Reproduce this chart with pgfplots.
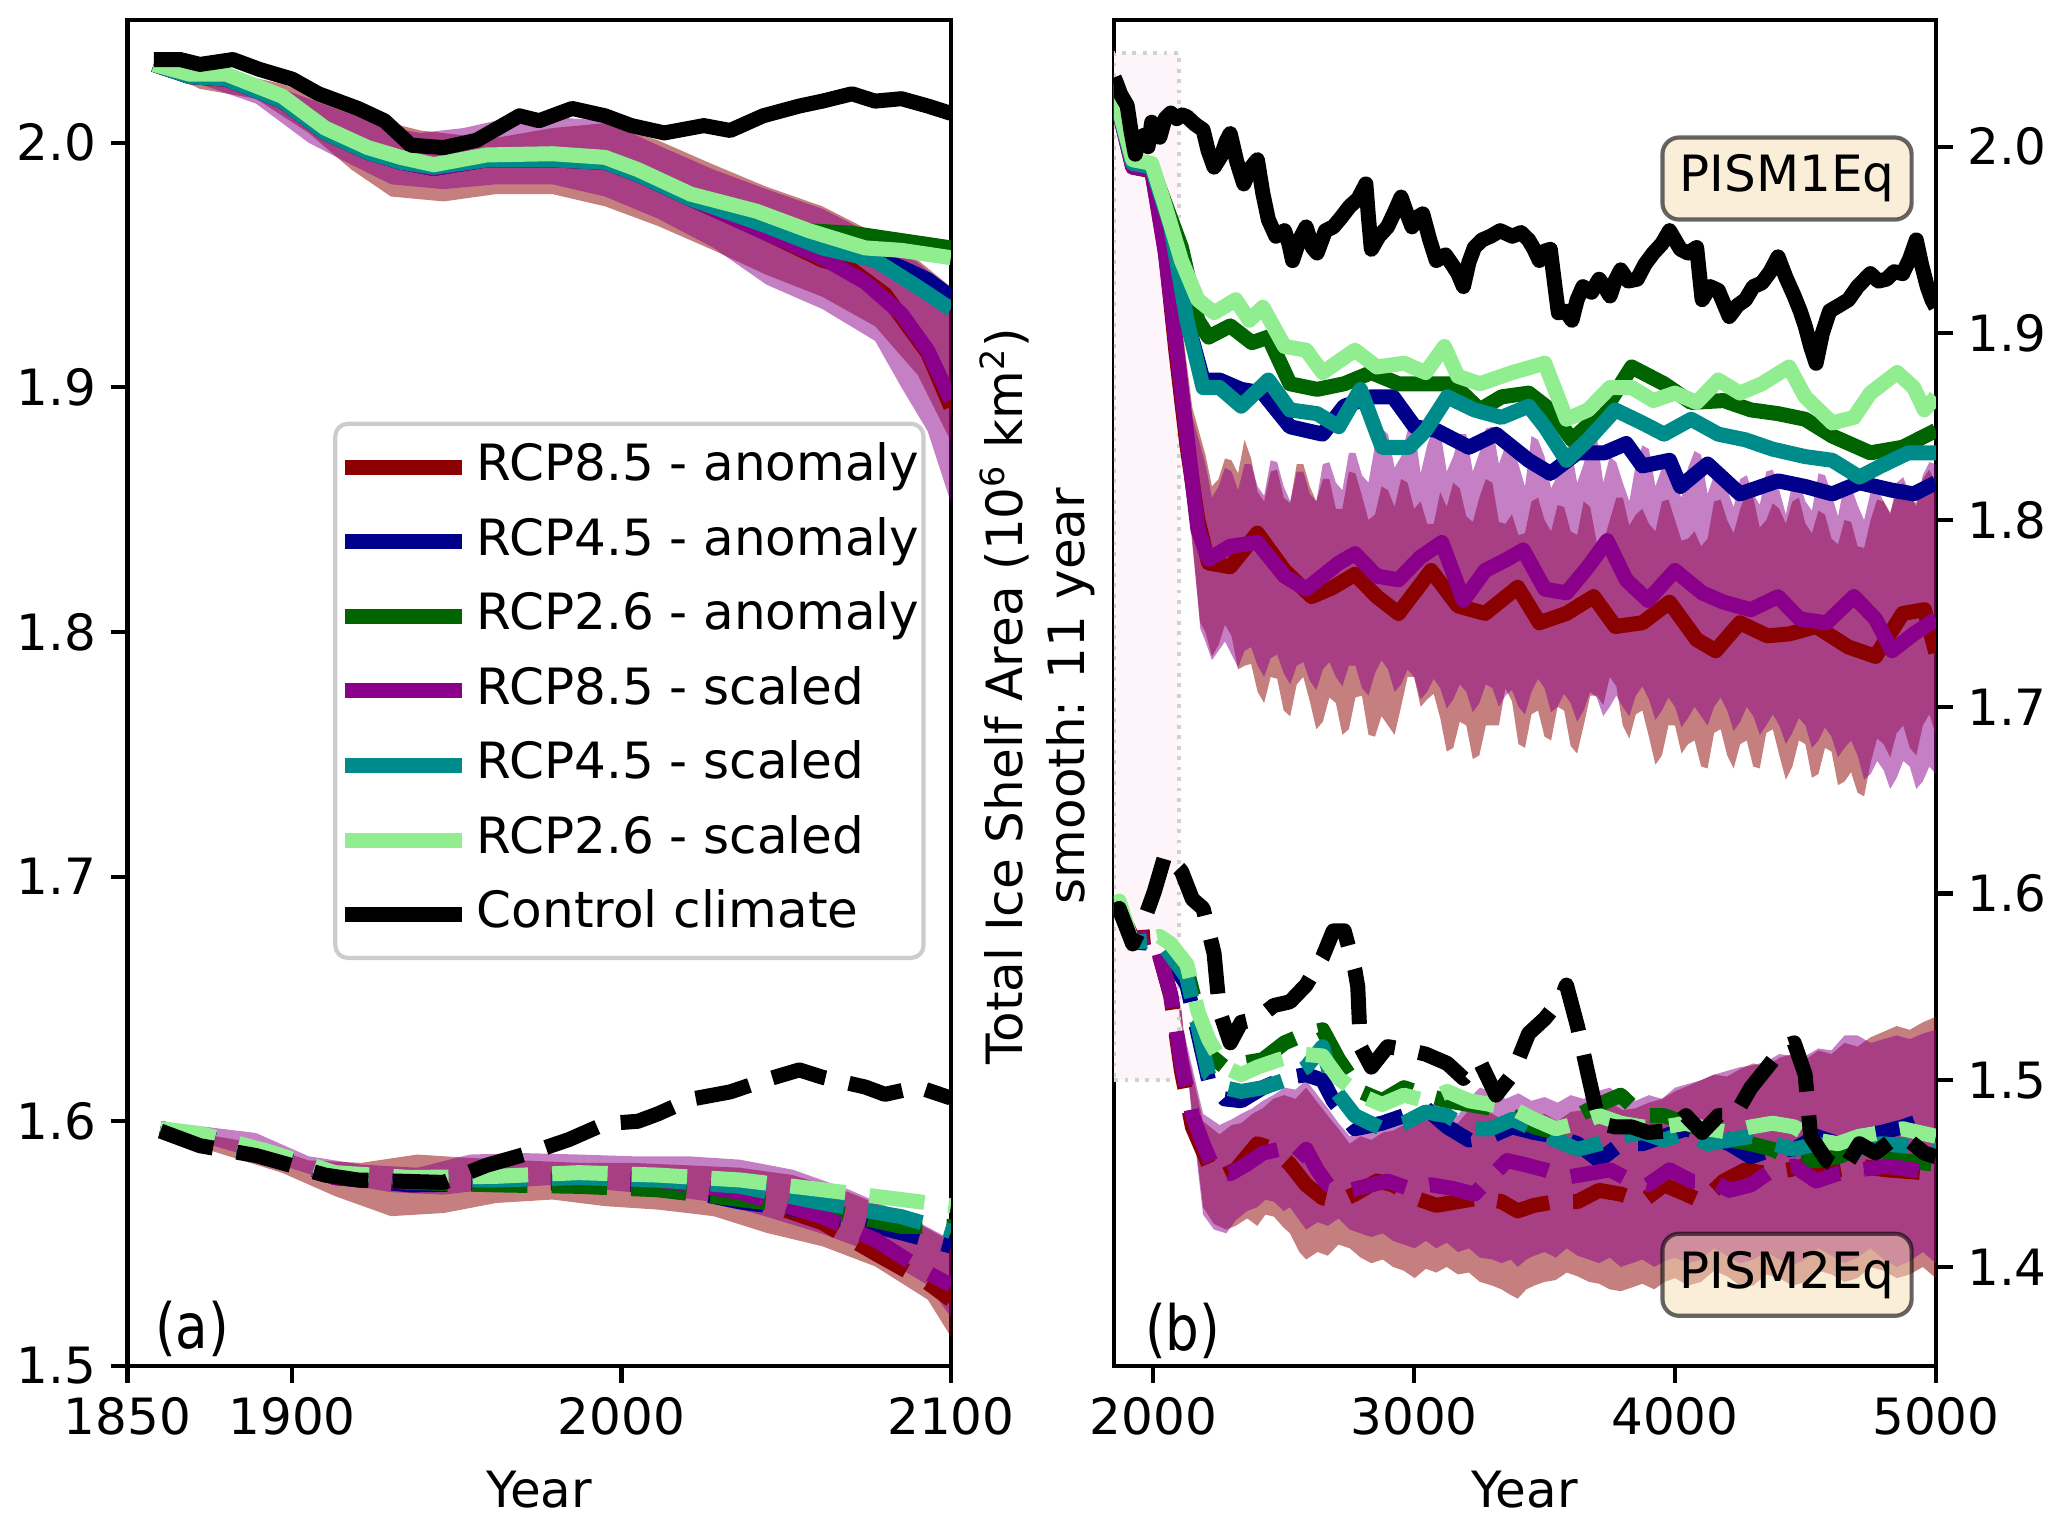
\documentclass[border=0pt]{standalone}
\usepackage{fontspec}
\setmainfont{DejaVu Sans}
\newfontfamily\narrowfont{DejaVu Sans}[FakeStretch=0.85]
\usepackage{pgfplots}
\pgfplotsset{compat=1.18}
\usepgfplotslibrary{fillbetween}

\definecolor{cdred}{RGB}{139,0,0}
\definecolor{cdblue}{RGB}{0,0,139}
\definecolor{cdgreen}{RGB}{0,100,0}
\definecolor{cdmag}{RGB}{139,0,139}
\definecolor{cdcyan}{RGB}{0,139,139}
\definecolor{clgreen}{RGB}{144,238,144}
\definecolor{cwheat}{RGB}{245,222,179}
\definecolor{legframe}{RGB}{204,204,204}
\definecolor{zoomfill}{RGB}{253,245,249}

\pgfplotsset{
  panel/.style={
    scale only axis, height=323.1pt,
    clip mode=individual,
    axis line style={line width=1pt},
    tick style={line width=1pt, black},
    major tick length=4pt, tick align=outside,
    xtick pos=bottom,
    tick label style={font=\fontsize{12}{14}\selectfont},
    label style={font=\fontsize{12}{14}\selectfont},
    /pgf/number format/assume math mode=true,
    /pgf/number format/1000 sep={},
    yticklabel style={/pgf/number format/.cd, fixed, fixed zerofill, precision=1},
    xlabel={Year},
    xlabel style={at={(axis description cs:0.5,-0.0922)}, anchor=center},
  },
  ln/.style={line width=3.6pt, line join=round, forget plot},
  dsh/.style={line width=3.6pt, line join=round, dash pattern=on 13.3pt off 5.8pt, forget plot},
  edge/.style={draw=none, forget plot},
  band/.style={fill=#1, fill opacity=0.5, draw=none, forget plot},
}

\begin{document}
\begin{tikzpicture}

%% ---------------- (a) 1850-2100 ----------------
\begin{axis}[panel,
    at={(30.6pt,38.9pt)}, anchor=south west, width=197.6pt,
    xmin=1850, xmax=2100, ymin=1.5, ymax=2.0503,
    xtick={1850,1900,2000,2100}, ytick={1.5,1.6,1.7,1.8,1.9,2.0},
    ytick pos=left,
    legend style={at={(axis description cs:0.9694,0.3015)}, anchor=south east,
      draw=legframe, line width=1pt, rounded corners=3pt, fill=white, fill opacity=0.8, text opacity=1,
      font=\fontsize{12}{14}\selectfont, inner xsep=0pt, inner ysep=3.4pt, row sep=3.9pt,
      nodes={inner sep=1pt, text height=9.2pt, text depth=2.8pt}},
    legend cell align=left,
    legend image code/.code={\path (-1.9pt,0pt) (30.1pt,0pt); \draw[#1, line width=3.6pt] (0pt,0pt) -- (28.1pt,0pt);},
  ]
  % PISM1Eq bands
  \addplot[edge, name path=aru] coordinates {(1858,2.033)(1880,2.029)(1897,2.024)(1913,2.016)(1930,2.008)(1939,2.005)(1952,2.003)(1962,2.002)(1979,2.006)(1995,2.008)(2011,2.001)(2028,1.991)(2044,1.982)(2061,1.974)(2077,1.963)(2090,1.952)(2100,1.941)};
  \addplot[edge, name path=arl] coordinates {(1858,2.031)(1872,2.022)(1889,2.018)(1905,2.004)(1918,1.989)(1930,1.978)(1946,1.976)(1962,1.979)(1979,1.979)(1995,1.974)(2011,1.966)(2028,1.956)(2044,1.946)(2061,1.937)(2077,1.925)(2090,1.905)(2100,1.878)};
  \addplot[band=cdred] fill between[of=aru and arl];
  \addplot[edge, name path=apu] coordinates {(1858,2.033)(1880,2.028)(1897,2.022)(1913,2.014)(1930,2.006)(1939,2.004)(1952,2.006)(1962,2.009)(1979,2.0105)(1995,2.009)(2011,1.999)(2028,1.989)(2044,1.981)(2061,1.973)(2077,1.962)(2090,1.951)(2100,1.94)};
  \addplot[edge, name path=apl] coordinates {(1858,2.031)(1872,2.024)(1889,2.016)(1905,2.0)(1918,1.991)(1930,1.983)(1946,1.981)(1962,1.983)(1979,1.983)(1995,1.978)(2011,1.969)(2028,1.957)(2044,1.942)(2061,1.932)(2077,1.919)(2085,1.900)(2093,1.882)(2100,1.853)};
  \addplot[band=cdmag] fill between[of=apu and apl];
  % PISM2Eq bands
  \addplot[edge, name path=bru] coordinates {(1860,1.596)(1872,1.595)(1889,1.591)(1905,1.584)(1921,1.583)(1938,1.5864)(1954,1.585)(1970,1.584)(1987,1.583)(2003,1.583)(2020,1.582)(2036,1.581)(2052,1.578)(2069,1.571)(2085,1.562)(2100,1.551)};
  \addplot[edge, name path=brl] coordinates {(1860,1.5952)(1876,1.5877)(1897,1.5789)(1913,1.5694)(1930,1.5612)(1946,1.5625)(1962,1.5666)(1979,1.568)(1995,1.5653)(2011,1.5639)(2028,1.5612)(2044,1.5544)(2061,1.5489)(2077,1.5407)(2093,1.5271)(2100,1.512)};
  \addplot[band=cdred] fill between[of=bru and brl];
  \addplot[edge, name path=bpu] coordinates {(1860,1.5973)(1872,1.598)(1889,1.5952)(1905,1.5857)(1921,1.5823)(1938,1.581)(1954,1.5864)(1970,1.587)(1987,1.5864)(2003,1.5857)(2020,1.5857)(2036,1.5843)(2052,1.5802)(2069,1.5721)(2085,1.5625)(2100,1.5516)};
  \addplot[edge, name path=bpl] coordinates {(1860,1.5955)(1876,1.590)(1897,1.582)(1913,1.575)(1930,1.571)(1946,1.570)(1962,1.5725)(1979,1.574)(1995,1.572)(2011,1.570)(2028,1.567)(2044,1.561)(2061,1.554)(2077,1.546)(2093,1.533)(2100,1.52)};
  \addplot[band=cdmag] fill between[of=bpu and bpl];

  % PISM1Eq lines (solid)
  \addplot[ln, cdred] coordinates {(1858,2.032)(1869,2.027)(1880,2.026)(1897,2.017)(1910,2.004)(1923,1.996)(1933,1.992)(1943,1.9895)(1959,1.993)(1979,1.993)(1995,1.992)(2005,1.987)(2021,1.977)(2044,1.963)(2061,1.952)(2069,1.949)(2080,1.938)(2093,1.914)(2100,1.892)};
  \addplot[ln, cdblue] coordinates {(1858,2.032)(1869,2.027)(1880,2.026)(1897,2.017)(1910,2.004)(1923,1.996)(1933,1.992)(1943,1.9895)(1959,1.993)(1979,1.993)(1995,1.992)(2005,1.987)(2021,1.977)(2044,1.964)(2061,1.957)(2077,1.953)(2085,1.949)(2093,1.944)(2100,1.937)};
  \addplot[ln, cdgreen] coordinates {(1858,2.032)(1869,2.027)(1880,2.027)(1897,2.018)(1910,2.005)(1923,1.997)(1933,1.993)(1943,1.990)(1959,1.994)(1979,1.994)(1995,1.993)(2005,1.988)(2021,1.978)(2041,1.970)(2057,1.964)(2070,1.963)(2085,1.960)(2100,1.957)};
  \addplot[ln, cdmag] coordinates {(1858,2.032)(1869,2.027)(1880,2.026)(1897,2.017)(1910,2.004)(1923,1.996)(1933,1.992)(1943,1.9895)(1959,1.993)(1979,1.993)(1995,1.992)(2005,1.987)(2021,1.977)(2044,1.963)(2061,1.953)(2074,1.943)(2085,1.930)(2093,1.915)(2100,1.895)};
  \addplot[ln, cdcyan] coordinates {(1858,2.032)(1869,2.027)(1880,2.026)(1897,2.017)(1910,2.004)(1923,1.996)(1933,1.992)(1943,1.990)(1959,1.993)(1979,1.993)(1995,1.992)(2005,1.987)(2021,1.977)(2044,1.966)(2061,1.957)(2077,1.952)(2090,1.941)(2100,1.932)};
  \addplot[ln, clgreen] coordinates {(1858,2.032)(1869,2.028)(1880,2.028)(1897,2.019)(1910,2.006)(1923,1.998)(1933,1.994)(1943,1.991)(1959,1.995)(1979,1.9955)(1995,1.994)(2005,1.989)(2021,1.979)(2041,1.972)(2057,1.964)(2074,1.957)(2085,1.956)(2100,1.953)};
  \addplot[ln, black] coordinates {(1858,2.034)(1866,2.034)(1872,2.032)(1882,2.034)(1890,2.030)(1900,2.026)(1908,2.020)(1920,2.014)(1928,2.009)(1936,1.999)(1946,1.998)(1956,2.001)(1969,2.011)(1975,2.009)(1985,2.014)(1995,2.011)(2003,2.007)(2013,2.004)(2025,2.007)(2033,2.005)(2043,2.011)(2054,2.015)(2061,2.017)(2070,2.020)(2077,2.017)(2085,2.018)(2093,2.015)(2100,2.012)};

  % PISM2Eq lines (dashed)
  \addplot[dsh, cdred] coordinates {(1860,1.597)(1872,1.594)(1897,1.585)(1913,1.577)(1936,1.574)(1962,1.575)(1987,1.576)(2011,1.575)(2036,1.570)(2061,1.5585)(2077,1.546)(2093,1.534)(2100,1.527)};
  \addplot[dsh, cdblue] coordinates {(1860,1.597)(1872,1.594)(1897,1.585)(1913,1.577)(1936,1.574)(1962,1.5745)(1987,1.575)(2011,1.574)(2036,1.567)(2061,1.5625)(2085,1.5544)(2100,1.549)};
  \addplot[dsh, cdgreen] coordinates {(1860,1.597)(1872,1.594)(1897,1.585)(1913,1.578)(1936,1.575)(1962,1.574)(1987,1.5734)(2011,1.572)(2036,1.568)(2061,1.564)(2085,1.557)(2100,1.557)};
  \addplot[dsh, cdmag] coordinates {(1860,1.597)(1872,1.594)(1897,1.585)(1913,1.577)(1936,1.575)(1962,1.576)(1987,1.577)(2011,1.576)(2036,1.571)(2061,1.561)(2077,1.5516)(2093,1.538)(2100,1.533)};
  \addplot[dsh, cdcyan] coordinates {(1860,1.597)(1872,1.594)(1897,1.585)(1913,1.578)(1936,1.576)(1962,1.576)(1987,1.577)(2011,1.576)(2036,1.5734)(2061,1.5666)(2085,1.561)(2100,1.555)};
  \addplot[dsh, clgreen] coordinates {(1860,1.597)(1872,1.595)(1892,1.588)(1913,1.579)(1936,1.577)(1962,1.5775)(1987,1.579)(2011,1.578)(2036,1.576)(2061,1.572)(2085,1.568)(2100,1.5655)};
  \addplot[dsh, black] coordinates {(1860,1.596)(1872,1.590)(1889,1.586)(1897,1.583)(1910,1.578)(1920,1.576)(1933,1.5755)(1946,1.575)(1959,1.582)(1972,1.587)(1984,1.5925)(1995,1.599)(2005,1.600)(2011,1.603)(2021,1.609)(2033,1.612)(2044,1.617)(2054,1.621)(2061,1.618)(2074,1.614)(2080,1.611)(2090,1.614)(2100,1.6095)};

  \node[font=\narrowfont\fontsize{15}{18}\selectfont] at (axis description cs:0.0785,0.0274) {(a)};

  \addlegendimage{cdred}\addlegendentry{RCP8.5 - anomaly}
  \addlegendimage{cdblue}\addlegendentry{RCP4.5 - anomaly}
  \addlegendimage{cdgreen}\addlegendentry{RCP2.6 - anomaly}
  \addlegendimage{cdmag}\addlegendentry{RCP8.5 - scaled}
  \addlegendimage{cdcyan}\addlegendentry{RCP4.5 - scaled}
  \addlegendimage{clgreen}\addlegendentry{RCP2.6 - scaled}
  \addlegendimage{black}\addlegendentry{Control climate}
\end{axis}

%% ---------------- (b) 1850-5000 ----------------
\begin{axis}[panel,
    at={(267.3pt,38.9pt)}, anchor=south west, width=197.3pt,
    xmin=1848.5, xmax=5000, ymin=1.347, ymax=2.068,
    xtick={2000,3000,4000,5000}, ytick={1.4,1.5,1.6,1.7,1.8,1.9,2.0},
    ytick pos=right, yticklabel pos=right,
  ]
  % zoom window of panel (a)
  \addplot[fill=zoomfill, draw=black!18, line width=0.9pt, dash pattern=on 0.9pt off 1.6pt, forget plot]
    coordinates {(1850,1.5)(2100,1.5)(2100,2.05)(1850,2.05)(1850,1.5)};

  % PISM1Eq bands
  \addplot[edge, name path=cru] coordinates {(1849,2.035)(1900,2.02)(1940,1.995)(2000,1.992)(2050,1.965)(2100,1.915)(2150,1.86)(2200,1.835)(2225,1.818)(2250,1.822)(2275,1.833)(2300,1.832)(2325,1.825)(2350,1.843)(2375,1.833)(2400,1.815)(2425,1.81)(2450,1.826)(2475,1.827)(2500,1.812)(2525,1.809)(2550,1.83)(2575,1.83)(2600,1.818)(2625,1.81)(2650,1.822)(2675,1.822)(2700,1.806)(2725,1.806)(2750,1.826)(2775,1.825)(2800,1.813)(2825,1.80)(2850,1.803)(2875,1.818)(2900,1.816)(2925,1.807)(2950,1.822)(2975,1.82)(3000,1.806)(3025,1.81)(3050,1.798)(3075,1.798)(3100,1.815)(3125,1.807)(3150,1.82)(3175,1.817)(3200,1.802)(3225,1.799)(3250,1.812)(3275,1.822)(3300,1.82)(3325,1.799)(3350,1.798)(3375,1.803)(3400,1.792)(3425,1.793)(3450,1.81)(3475,1.812)(3500,1.80)(3525,1.794)(3550,1.808)(3575,1.807)(3600,1.794)(3625,1.792)(3650,1.81)(3675,1.807)(3700,1.788)(3725,1.788)(3750,1.80)(3775,1.812)(3800,1.812)(3825,1.797)(3850,1.803)(3875,1.806)(3900,1.798)(3925,1.794)(3950,1.81)(3975,1.811)(4000,1.80)(4025,1.789)(4050,1.79)(4075,1.794)(4100,1.786)(4125,1.79)(4150,1.81)(4175,1.811)(4200,1.80)(4225,1.793)(4250,1.806)(4275,1.815)(4300,1.812)(4325,1.796)(4350,1.80)(4375,1.809)(4400,1.806)(4425,1.798)(4450,1.81)(4475,1.812)(4500,1.798)(4525,1.793)(4550,1.805)(4575,1.803)(4600,1.79)(4625,1.787)(4650,1.80)(4675,1.799)(4700,1.786)(4725,1.785)(4750,1.80)(4775,1.811)(4800,1.81)(4825,1.804)(4850,1.815)(4875,1.82)(4900,1.812)(4925,1.809)(4950,1.822)(4975,1.827)(5000,1.82)};
  \addplot[edge, name path=crl] coordinates {(1849,2.03)(1900,2.0)(1940,1.975)(2000,1.98)(2050,1.935)(2100,1.87)(2140,1.80)(2180,1.745)(2200,1.74)(2225,1.727)(2250,1.733)(2275,1.744)(2300,1.738)(2325,1.72)(2350,1.722)(2375,1.723)(2400,1.708)(2425,1.702)(2450,1.716)(2475,1.715)(2500,1.698)(2525,1.695)(2550,1.712)(2575,1.716)(2600,1.703)(2625,1.688)(2650,1.692)(2675,1.705)(2700,1.702)(2725,1.685)(2750,1.688)(2775,1.705)(2800,1.706)(2825,1.685)(2850,1.684)(2875,1.695)(2900,1.69)(2925,1.685)(2950,1.70)(2975,1.716)(3000,1.716)(3025,1.70)(3050,1.704)(3075,1.707)(3100,1.694)(3125,1.676)(3150,1.678)(3175,1.692)(3200,1.69)(3225,1.672)(3250,1.674)(3275,1.69)(3300,1.69)(3325,1.69)(3350,1.71)(3375,1.703)(3400,1.68)(3425,1.678)(3450,1.696)(3475,1.698)(3500,1.684)(3525,1.682)(3550,1.70)(3575,1.698)(3600,1.679)(3625,1.675)(3650,1.69)(3675,1.706)(3700,1.706)(3725,1.701)(3750,1.716)(3775,1.711)(3800,1.69)(3825,1.683)(3850,1.696)(3875,1.698)(3900,1.684)(3925,1.669)(3950,1.674)(3975,1.69)(4000,1.69)(4025,1.675)(4050,1.68)(4075,1.682)(4100,1.668)(4125,1.667)(4150,1.686)(4175,1.688)(4200,1.674)(4225,1.667)(4250,1.68)(4275,1.682)(4300,1.668)(4325,1.667)(4350,1.686)(4375,1.688)(4400,1.674)(4425,1.661)(4450,1.668)(4475,1.682)(4500,1.68)(4525,1.662)(4550,1.664)(4575,1.678)(4600,1.676)(4625,1.658)(4650,1.66)(4675,1.665)(4700,1.654)(4725,1.652)(4750,1.67)(4775,1.683)(4800,1.68)(4825,1.673)(4850,1.686)(4875,1.69)(4900,1.678)(4925,1.674)(4950,1.69)(4975,1.696)(5000,1.685)};
  \addplot[band=cdred] fill between[of=cru and crl];
  \addplot[edge, name path=cpu] coordinates {(1849,2.035)(1900,2.02)(1940,1.992)(2000,1.993)(2050,1.962)(2100,1.91)(2150,1.855)(2200,1.83)(2225,1.812)(2250,1.818)(2275,1.828)(2300,1.826)(2325,1.816)(2350,1.83)(2375,1.83)(2400,1.818)(2425,1.813)(2450,1.832)(2475,1.831)(2500,1.818)(2525,1.81)(2550,1.826)(2575,1.826)(2600,1.814)(2625,1.81)(2650,1.83)(2675,1.831)(2700,1.82)(2725,1.816)(2750,1.836)(2775,1.836)(2800,1.824)(2825,1.82)(2850,1.84)(2875,1.849)(2900,1.846)(2925,1.828)(2950,1.834)(2975,1.848)(3000,1.85)(3025,1.825)(3050,1.84)(3075,1.85)(3100,1.848)(3125,1.826)(3150,1.834)(3175,1.846)(3200,1.846)(3225,1.826)(3250,1.836)(3275,1.849)(3300,1.85)(3325,1.83)(3350,1.84)(3375,1.839)(3400,1.83)(3425,1.818)(3450,1.845)(3475,1.843)(3500,1.834)(3525,1.817)(3550,1.824)(3575,1.838)(3600,1.84)(3625,1.82)(3650,1.83)(3675,1.843)(3700,1.845)(3725,1.82)(3750,1.834)(3775,1.831)(3800,1.82)(3825,1.81)(3850,1.83)(3875,1.84)(3900,1.838)(3925,1.818)(3950,1.828)(3975,1.828)(4000,1.82)(4025,1.812)(4050,1.828)(4075,1.837)(4100,1.835)(4125,1.814)(4150,1.824)(4175,1.824)(4200,1.816)(4225,1.807)(4250,1.822)(4275,1.824)(4300,1.814)(4325,1.808)(4350,1.826)(4375,1.827)(4400,1.816)(4425,1.803)(4450,1.82)(4475,1.821)(4500,1.81)(4525,1.805)(4550,1.825)(4575,1.824)(4600,1.814)(4625,1.802)(4650,1.82)(4675,1.818)(4700,1.808)(4725,1.80)(4750,1.815)(4775,1.817)(4800,1.81)(4825,1.803)(4850,1.82)(4875,1.823)(4900,1.814)(4925,1.807)(4950,1.824)(4975,1.831)(5000,1.83)};
  \addplot[edge, name path=cpl] coordinates {(1849,2.03)(1900,2.002)(1940,1.98)(2000,1.982)(2050,1.938)(2100,1.875)(2140,1.805)(2180,1.742)(2200,1.735)(2225,1.725)(2250,1.73)(2275,1.735)(2300,1.728)(2325,1.721)(2350,1.73)(2375,1.732)(2400,1.722)(2425,1.716)(2450,1.726)(2475,1.728)(2500,1.718)(2525,1.712)(2550,1.722)(2575,1.724)(2600,1.714)(2625,1.709)(2650,1.72)(2675,1.724)(2700,1.716)(2725,1.711)(2750,1.722)(2775,1.722)(2800,1.71)(2825,1.706)(2850,1.718)(2875,1.725)(2900,1.72)(2925,1.708)(2950,1.712)(2975,1.72)(3000,1.716)(3025,1.704)(3050,1.708)(3075,1.715)(3100,1.71)(3125,1.699)(3150,1.704)(3175,1.712)(3200,1.708)(3225,1.697)(3250,1.702)(3275,1.712)(3300,1.71)(3325,1.70)(3350,1.706)(3375,1.709)(3400,1.70)(3425,1.696)(3450,1.708)(3475,1.715)(3500,1.71)(3525,1.697)(3550,1.70)(3575,1.707)(3600,1.702)(3625,1.692)(3650,1.698)(3675,1.708)(3700,1.705)(3725,1.695)(3750,1.70)(3775,1.706)(3800,1.70)(3825,1.695)(3850,1.706)(3875,1.711)(3900,1.704)(3925,1.693)(3950,1.698)(3975,1.705)(4000,1.70)(4025,1.689)(4050,1.694)(4075,1.70)(4100,1.695)(4125,1.69)(4150,1.70)(4175,1.705)(4200,1.698)(4225,1.687)(4250,1.692)(4275,1.70)(4300,1.695)(4325,1.685)(4350,1.69)(4375,1.696)(4400,1.69)(4425,1.68)(4450,1.686)(4475,1.694)(4500,1.69)(4525,1.678)(4550,1.682)(4575,1.689)(4600,1.684)(4625,1.673)(4650,1.678)(4675,1.682)(4700,1.674)(4725,1.661)(4750,1.664)(4775,1.671)(4800,1.666)(4825,1.656)(4850,1.662)(4875,1.671)(4900,1.668)(4925,1.656)(4950,1.66)(4975,1.668)(5000,1.664)};
  \addplot[band=cdmag] fill between[of=cpu and cpl];

  % PISM2Eq bands
  \addplot[edge, name path=dru] coordinates {(1849,1.592)(1900,1.588)(1963,1.580)(2020,1.574)(2067,1.553)(2129,1.516)(2191,1.478)(2254,1.471)(2300,1.476)(2337,1.477)(2380,1.482)(2420,1.485)(2460,1.49)(2503,1.492)(2545,1.49)(2586,1.496)(2630,1.488)(2669,1.481)(2710,1.474)(2753,1.466)(2795,1.47)(2836,1.468)(2880,1.472)(2919,1.473)(2960,1.476)(3002,1.477)(3045,1.482)(3085,1.483)(3125,1.478)(3168,1.477)(3210,1.484)(3252,1.485)(3300,1.482)(3350,1.478)(3400,1.483)(3450,1.48)(3500,1.482)(3550,1.478)(3600,1.483)(3650,1.484)(3700,1.482)(3750,1.488)(3800,1.484)(3850,1.485)(3900,1.488)(3950,1.49)(4000,1.494)(4050,1.497)(4100,1.5)(4150,1.503)(4200,1.502)(4250,1.506)(4300,1.509)(4350,1.507)(4400,1.512)(4450,1.514)(4500,1.511)(4550,1.516)(4600,1.514)(4650,1.52)(4700,1.518)(4750,1.523)(4800,1.526)(4850,1.529)(4900,1.527)(4950,1.531)(5000,1.534)};
  \addplot[edge, name path=drl] coordinates {(1849,1.588)(1880,1.582)(1921,1.562)(1960,1.57)(2004,1.572)(2060,1.56)(2108,1.537)(2150,1.481)(2191,1.432)(2233,1.423)(2280,1.42)(2316,1.422)(2360,1.426)(2399,1.422)(2430,1.428)(2462,1.427)(2500,1.421)(2524,1.418)(2560,1.408)(2586,1.404)(2630,1.408)(2669,1.406)(2710,1.412)(2753,1.41)(2795,1.405)(2836,1.402)(2880,1.404)(2919,1.4)(2960,1.398)(3002,1.394)(3045,1.399)(3085,1.397)(3125,1.4)(3168,1.396)(3210,1.397)(3252,1.392)(3300,1.39)(3335,1.388)(3370,1.385)(3397,1.383)(3430,1.388)(3460,1.39)(3500,1.392)(3543,1.393)(3585,1.397)(3626,1.395)(3670,1.392)(3709,1.391)(3750,1.388)(3792,1.387)(3835,1.389)(3875,1.391)(3920,1.388)(3960,1.392)(4000,1.394)(4050,1.39)(4100,1.392)(4150,1.398)(4200,1.395)(4250,1.39)(4300,1.39)(4350,1.396)(4400,1.394)(4450,1.39)(4500,1.392)(4550,1.398)(4600,1.396)(4650,1.392)(4700,1.394)(4750,1.4)(4800,1.398)(4850,1.394)(4900,1.396)(4950,1.40)(5000,1.394)};
  \addplot[band=cdred] fill between[of=dru and drl];
  \addplot[edge, name path=dpu] coordinates {(1849,1.594)(1900,1.591)(1963,1.584)(2020,1.578)(2067,1.556)(2129,1.519)(2191,1.482)(2254,1.476)(2300,1.479)(2337,1.482)(2380,1.485)(2420,1.489)(2460,1.492)(2503,1.496)(2545,1.495)(2586,1.5)(2630,1.492)(2669,1.485)(2710,1.477)(2753,1.47)(2795,1.473)(2836,1.472)(2880,1.475)(2919,1.477)(2960,1.479)(3002,1.481)(3045,1.484)(3085,1.487)(3125,1.484)(3168,1.481)(3210,1.49)(3252,1.496)(3300,1.494)(3350,1.49)(3400,1.493)(3450,1.489)(3500,1.491)(3550,1.488)(3600,1.492)(3650,1.49)(3700,1.494)(3750,1.496)(3800,1.491)(3850,1.489)(3900,1.492)(3950,1.49)(4000,1.496)(4050,1.498)(4100,1.5)(4150,1.503)(4200,1.505)(4250,1.507)(4300,1.508)(4350,1.51)(4400,1.514)(4450,1.513)(4500,1.513)(4550,1.517)(4600,1.516)(4650,1.524)(4700,1.524)(4750,1.52)(4800,1.522)(4850,1.524)(4900,1.522)(4950,1.525)(5000,1.527)};
  \addplot[edge, name path=dpl] coordinates {(1849,1.589)(1880,1.585)(1921,1.572)(1960,1.574)(2004,1.575)(2060,1.563)(2108,1.538)(2150,1.478)(2191,1.428)(2233,1.42)(2280,1.418)(2316,1.425)(2360,1.43)(2399,1.432)(2430,1.436)(2462,1.435)(2500,1.43)(2524,1.432)(2560,1.425)(2586,1.42)(2630,1.424)(2669,1.422)(2710,1.426)(2753,1.42)(2795,1.418)(2836,1.416)(2880,1.418)(2919,1.414)(2960,1.412)(3002,1.41)(3045,1.414)(3085,1.41)(3125,1.413)(3168,1.408)(3210,1.41)(3252,1.405)(3300,1.404)(3335,1.402)(3370,1.404)(3397,1.4)(3430,1.404)(3460,1.406)(3500,1.408)(3543,1.405)(3585,1.41)(3626,1.406)(3670,1.404)(3709,1.402)(3750,1.405)(3792,1.40)(3835,1.402)(3875,1.404)(3920,1.4)(3960,1.403)(4000,1.405)(4050,1.402)(4100,1.404)(4150,1.41)(4200,1.406)(4250,1.402)(4300,1.404)(4350,1.408)(4400,1.404)(4450,1.401)(4500,1.404)(4550,1.41)(4600,1.406)(4650,1.402)(4700,1.405)(4750,1.41)(4800,1.404)(4850,1.40)(4900,1.403)(4950,1.408)(5000,1.402)};
  \addplot[band=cdmag] fill between[of=dpu and dpl];

  % PISM1Eq lines (solid)
  \addplot[ln, cdred] coordinates {(1850,2.033)(1859,2.025)(1921,1.989)(1994,1.987)(2046,1.945)(2087,1.89)(2129,1.84)(2171,1.80)(2212,1.777)(2295,1.775)(2399,1.793)(2503,1.773)(2607,1.759)(2690,1.764)(2773,1.771)(2857,1.759)(2940,1.750)(3065,1.773)(3168,1.754)(3272,1.750)(3397,1.764)(3480,1.745)(3584,1.750)(3688,1.759)(3771,1.743)(3875,1.745)(3979,1.756)(4083,1.736)(4156,1.730)(4249,1.745)(4354,1.738)(4437,1.739)(4541,1.743)(4665,1.732)(4769,1.727)(4873,1.750)(4956,1.752)(5000,1.729)};
  \addplot[ln, cdblue] coordinates {(1850,2.033)(1859,2.025)(1921,1.991)(1994,1.988)(2067,1.955)(2129,1.907)(2191,1.875)(2254,1.875)(2337,1.870)(2420,1.868)(2524,1.850)(2649,1.846)(2732,1.861)(2836,1.866)(2919,1.866)(3002,1.850)(3085,1.848)(3210,1.839)(3314,1.846)(3439,1.832)(3522,1.825)(3626,1.836)(3730,1.836)(3813,1.841)(3875,1.829)(3979,1.832)(4021,1.818)(4125,1.830)(4249,1.814)(4395,1.821)(4499,1.818)(4603,1.814)(4707,1.820)(4832,1.816)(4915,1.814)(5000,1.820)};
  \addplot[ln, cdgreen] coordinates {(1850,2.033)(1859,2.025)(1921,1.991)(1994,1.989)(2108,1.946)(2171,1.907)(2212,1.898)(2295,1.904)(2378,1.895)(2441,1.898)(2524,1.873)(2628,1.870)(2732,1.873)(2836,1.879)(2940,1.873)(3044,1.873)(3148,1.873)(3252,1.859)(3335,1.866)(3439,1.868)(3522,1.859)(3605,1.843)(3730,1.859)(3834,1.882)(3958,1.873)(4062,1.863)(4187,1.864)(4291,1.859)(4395,1.857)(4499,1.854)(4603,1.845)(4749,1.836)(4873,1.839)(5000,1.848)};
  \addplot[ln, cdmag] coordinates {(1850,2.033)(1859,2.025)(1921,1.989)(1994,1.9875)(2046,1.943)(2087,1.895)(2129,1.845)(2171,1.795)(2212,1.779)(2295,1.786)(2399,1.788)(2503,1.770)(2586,1.763)(2711,1.777)(2773,1.782)(2857,1.770)(2940,1.768)(3023,1.780)(3106,1.788)(3189,1.757)(3272,1.773)(3356,1.779)(3418,1.784)(3501,1.763)(3584,1.761)(3667,1.775)(3740,1.789)(3813,1.768)(3896,1.757)(4000,1.773)(4104,1.761)(4187,1.756)(4291,1.752)(4395,1.759)(4478,1.747)(4582,1.745)(4686,1.759)(4769,1.747)(4832,1.730)(4915,1.739)(5000,1.747)};
  \addplot[ln, cdcyan] coordinates {(1850,2.033)(1859,2.025)(1921,1.991)(1994,1.989)(2067,1.957)(2129,1.907)(2191,1.871)(2254,1.871)(2337,1.861)(2441,1.875)(2524,1.859)(2628,1.857)(2711,1.850)(2794,1.870)(2877,1.839)(2981,1.839)(3044,1.848)(3127,1.866)(3231,1.859)(3335,1.855)(3439,1.861)(3501,1.850)(3584,1.832)(3667,1.843)(3771,1.859)(3875,1.852)(3958,1.846)(4062,1.854)(4166,1.846)(4270,1.843)(4374,1.838)(4499,1.834)(4603,1.832)(4707,1.823)(4790,1.829)(4894,1.836)(5000,1.836)};
  \addplot[ln, clgreen] coordinates {(1850,2.033)(1859,2.025)(1921,1.993)(1994,1.991)(2046,1.968)(2108,1.939)(2171,1.918)(2233,1.911)(2316,1.918)(2368,1.907)(2420,1.914)(2503,1.893)(2586,1.891)(2649,1.879)(2773,1.891)(2857,1.882)(2961,1.884)(3044,1.879)(3116,1.893)(3168,1.877)(3252,1.873)(3376,1.879)(3501,1.884)(3584,1.854)(3667,1.859)(3751,1.871)(3834,1.871)(3917,1.864)(4000,1.868)(4083,1.863)(4166,1.875)(4249,1.868)(4333,1.873)(4437,1.882)(4499,1.866)(4603,1.852)(4686,1.855)(4749,1.868)(4852,1.879)(4915,1.871)(4956,1.859)(5000,1.866)};
  \addplot[ln, black] coordinates {(1850,2.037)(1859,2.034)(1875,2.028)(1900,2.022)(1915,2.008)(1931,1.996)(1945,2.004)(1963,2.006)(1980,2.000)(1994,2.013)(2010,2.008)(2025,2.005)(2045,2.015)(2067,2.018)(2090,2.015)(2110,2.017)(2129,2.016)(2160,2.012)(2191,2.009)(2210,1.998)(2233,1.989)(2260,1.995)(2280,2.003)(2295,2.007)(2320,1.992)(2347,1.980)(2370,1.988)(2399,1.993)(2420,1.975)(2441,1.961)(2470,1.952)(2503,1.955)(2520,1.948)(2534,1.939)(2560,1.950)(2586,1.957)(2610,1.946)(2628,1.943)(2660,1.955)(2690,1.957)(2720,1.962)(2753,1.968)(2785,1.972)(2815,1.980)(2825,1.962)(2836,1.945)(2865,1.952)(2898,1.957)(2925,1.965)(2950,1.973)(2970,1.965)(2992,1.957)(3010,1.962)(3033,1.964)(3060,1.950)(3085,1.939)(3120,1.942)(3150,1.936)(3168,1.932)(3189,1.925)(3210,1.938)(3231,1.946)(3260,1.950)(3293,1.952)(3330,1.955)(3376,1.952)(3410,1.954)(3439,1.950)(3460,1.945)(3480,1.939)(3500,1.944)(3522,1.945)(3540,1.925)(3553,1.911)(3580,1.912)(3605,1.907)(3625,1.918)(3647,1.925)(3680,1.922)(3709,1.929)(3730,1.925)(3751,1.920)(3770,1.928)(3792,1.934)(3820,1.928)(3855,1.929)(3885,1.937)(3917,1.943)(3950,1.948)(3979,1.955)(4000,1.950)(4021,1.945)(4050,1.943)(4083,1.946)(4095,1.930)(4104,1.918)(4135,1.925)(4166,1.923)(4190,1.915)(4208,1.909)(4240,1.915)(4270,1.918)(4300,1.925)(4333,1.927)(4365,1.933)(4395,1.941)(4425,1.930)(4457,1.920)(4480,1.912)(4499,1.904)(4520,1.893)(4541,1.884)(4565,1.900)(4593,1.912)(4630,1.915)(4665,1.918)(4700,1.925)(4749,1.932)(4780,1.928)(4811,1.929)(4840,1.933)(4873,1.932)(4900,1.940)(4925,1.950)(4945,1.937)(4967,1.925)(4985,1.918)(5000,1.914)};

  % PISM2Eq lines (dashed)
  \addplot[dsh, cdred] coordinates {(1850,1.592)(1869,1.592)(1921,1.576)(2004,1.577)(2067,1.545)(2108,1.505)(2150,1.475)(2212,1.455)(2254,1.448)(2316,1.452)(2399,1.466)(2462,1.463)(2524,1.455)(2586,1.444)(2649,1.437)(2711,1.435)(2773,1.439)(2857,1.446)(2919,1.444)(3002,1.437)(3085,1.433)(3168,1.435)(3252,1.437)(3335,1.435)(3397,1.430)(3460,1.433)(3543,1.435)(3626,1.435)(3709,1.441)(3792,1.439)(3875,1.435)(3958,1.444)(4042,1.439)(4104,1.435)(4187,1.446)(4270,1.452)(4354,1.450)(4437,1.452)(4520,1.455)(4624,1.452)(4707,1.454)(4811,1.452)(5000,1.450)};
  \addplot[dsh, cdblue] coordinates {(1850,1.592)(1869,1.592)(1921,1.574)(2025,1.573)(2129,1.551)(2212,1.500)(2274,1.490)(2337,1.489)(2420,1.496)(2503,1.501)(2586,1.503)(2649,1.500)(2690,1.489)(2773,1.474)(2877,1.477)(2961,1.481)(3044,1.485)(3127,1.475)(3210,1.468)(3293,1.470)(3376,1.475)(3460,1.472)(3543,1.470)(3626,1.466)(3709,1.457)(3792,1.466)(3875,1.466)(3958,1.470)(4042,1.474)(4125,1.470)(4208,1.466)(4291,1.459)(4374,1.463)(4457,1.463)(4541,1.470)(4624,1.466)(4707,1.470)(4790,1.472)(4873,1.475)(4956,1.479)(5000,1.475)};
  \addplot[dsh, cdgreen] coordinates {(1850,1.592)(1869,1.592)(1921,1.574)(2025,1.575)(2129,1.559)(2212,1.514)(2274,1.507)(2337,1.509)(2420,1.511)(2503,1.520)(2586,1.525)(2649,1.527)(2711,1.511)(2794,1.494)(2877,1.489)(2961,1.496)(3044,1.492)(3127,1.489)(3210,1.487)(3293,1.485)(3376,1.481)(3460,1.475)(3543,1.472)(3626,1.481)(3709,1.487)(3792,1.492)(3875,1.481)(3958,1.481)(4042,1.477)(4125,1.472)(4208,1.468)(4291,1.466)(4374,1.463)(4457,1.457)(4541,1.457)(4624,1.459)(4707,1.463)(4790,1.463)(4873,1.457)(5000,1.455)};
  \addplot[dsh, cdmag] coordinates {(1850,1.592)(1869,1.592)(1921,1.575)(2004,1.577)(2067,1.546)(2108,1.509)(2150,1.481)(2191,1.466)(2233,1.452)(2295,1.450)(2358,1.455)(2420,1.461)(2482,1.463)(2545,1.457)(2586,1.463)(2628,1.452)(2669,1.444)(2753,1.441)(2836,1.444)(2898,1.446)(2981,1.442)(3065,1.444)(3148,1.442)(3231,1.439)(3293,1.448)(3356,1.457)(3418,1.455)(3501,1.452)(3584,1.448)(3667,1.450)(3751,1.452)(3834,1.446)(3896,1.444)(3979,1.452)(4062,1.446)(4146,1.446)(4208,1.441)(4291,1.444)(4374,1.452)(4457,1.454)(4541,1.446)(4624,1.450)(4707,1.452)(4811,1.454)(4915,1.452)(5000,1.450)};
  \addplot[dsh, cdcyan] coordinates {(1850,1.592)(1869,1.592)(1921,1.574)(2025,1.575)(2129,1.555)(2171,1.529)(2212,1.503)(2274,1.496)(2337,1.494)(2420,1.496)(2503,1.500)(2586,1.507)(2649,1.518)(2690,1.496)(2773,1.481)(2877,1.474)(2961,1.477)(3044,1.483)(3127,1.481)(3210,1.474)(3293,1.474)(3376,1.479)(3460,1.474)(3543,1.468)(3626,1.463)(3709,1.466)(3792,1.470)(3875,1.472)(3958,1.468)(4042,1.472)(4125,1.466)(4208,1.468)(4291,1.470)(4374,1.466)(4457,1.463)(4541,1.466)(4624,1.463)(4707,1.463)(4790,1.466)(4873,1.465)(5000,1.463)};
  \addplot[dsh, clgreen] coordinates {(1850,1.592)(1869,1.596)(1921,1.573)(1963,1.575)(2025,1.577)(2067,1.573)(2129,1.562)(2171,1.537)(2212,1.522)(2274,1.507)(2337,1.503)(2399,1.507)(2482,1.511)(2565,1.514)(2649,1.513)(2711,1.501)(2794,1.492)(2877,1.487)(2961,1.492)(3044,1.489)(3127,1.494)(3210,1.489)(3293,1.487)(3376,1.485)(3460,1.479)(3543,1.474)(3626,1.477)(3709,1.481)(3792,1.477)(3875,1.475)(3958,1.475)(4042,1.477)(4125,1.474)(4208,1.472)(4291,1.475)(4374,1.477)(4457,1.475)(4541,1.468)(4624,1.466)(4707,1.470)(4790,1.472)(4873,1.474)(5000,1.470)};
  \addplot[dsh, black] coordinates {(1850,1.59)(1869,1.592)(1921,1.573)(1963,1.585)(2004,1.601)(2046,1.621)(2108,1.612)(2150,1.597)(2191,1.592)(2233,1.568)(2254,1.537)(2295,1.520)(2337,1.531)(2399,1.533)(2462,1.540)(2524,1.542)(2586,1.551)(2649,1.566)(2690,1.580)(2732,1.580)(2773,1.559)(2784,1.550)(2794,1.518)(2836,1.507)(2898,1.518)(2981,1.516)(3044,1.514)(3127,1.509)(3189,1.501)(3252,1.510)(3314,1.492)(3376,1.503)(3439,1.525)(3501,1.533)(3564,1.544)(3584,1.551)(3626,1.529)(3667,1.503)(3709,1.477)(3771,1.475)(3834,1.475)(3896,1.472)(3979,1.473)(4042,1.481)(4104,1.472)(4166,1.481)(4229,1.481)(4291,1.496)(4354,1.507)(4416,1.518)(4457,1.520)(4499,1.503)(4520,1.470)(4582,1.457)(4645,1.452)(4707,1.466)(4769,1.461)(4832,1.468)(4894,1.468)(4956,1.461)(5000,1.459)};

  \node[font=\narrowfont\fontsize{15}{18}\selectfont] at (axis description cs:0.084,0.0261) {(b)};
  \node[draw=black, draw opacity=0.6, fill=cwheat, fill opacity=0.5, text opacity=1,
        rounded corners=4pt, line width=1pt, minimum width=59.8pt, minimum height=19.7pt, inner sep=0pt,
        font=\fontsize{12}{14}\selectfont] at (axis description cs:0.819,0.882) {PISM1Eq};
  \node[draw=black, draw opacity=0.6, fill=cwheat, fill opacity=0.5, text opacity=1,
        rounded corners=4pt, line width=1pt, minimum width=59.8pt, minimum height=19.7pt, inner sep=0pt,
        font=\fontsize{12}{14}\selectfont] at (axis description cs:0.819,0.0677) {PISM2Eq};
  \node[rotate=90, align=center, font=\fontsize{12}{14.9}\selectfont] at (axis description cs:-0.093,0.4975)
    {Total Ice Shelf Area (10\textsuperscript{6} km\textsuperscript{2})\\smooth: 11 year};
\end{axis}

% page = the reference's full figure area
\pgfresetboundingbox
\useasboundingbox (0,0) rectangle (496.08pt,366.72pt);
\end{tikzpicture}
\end{document}
